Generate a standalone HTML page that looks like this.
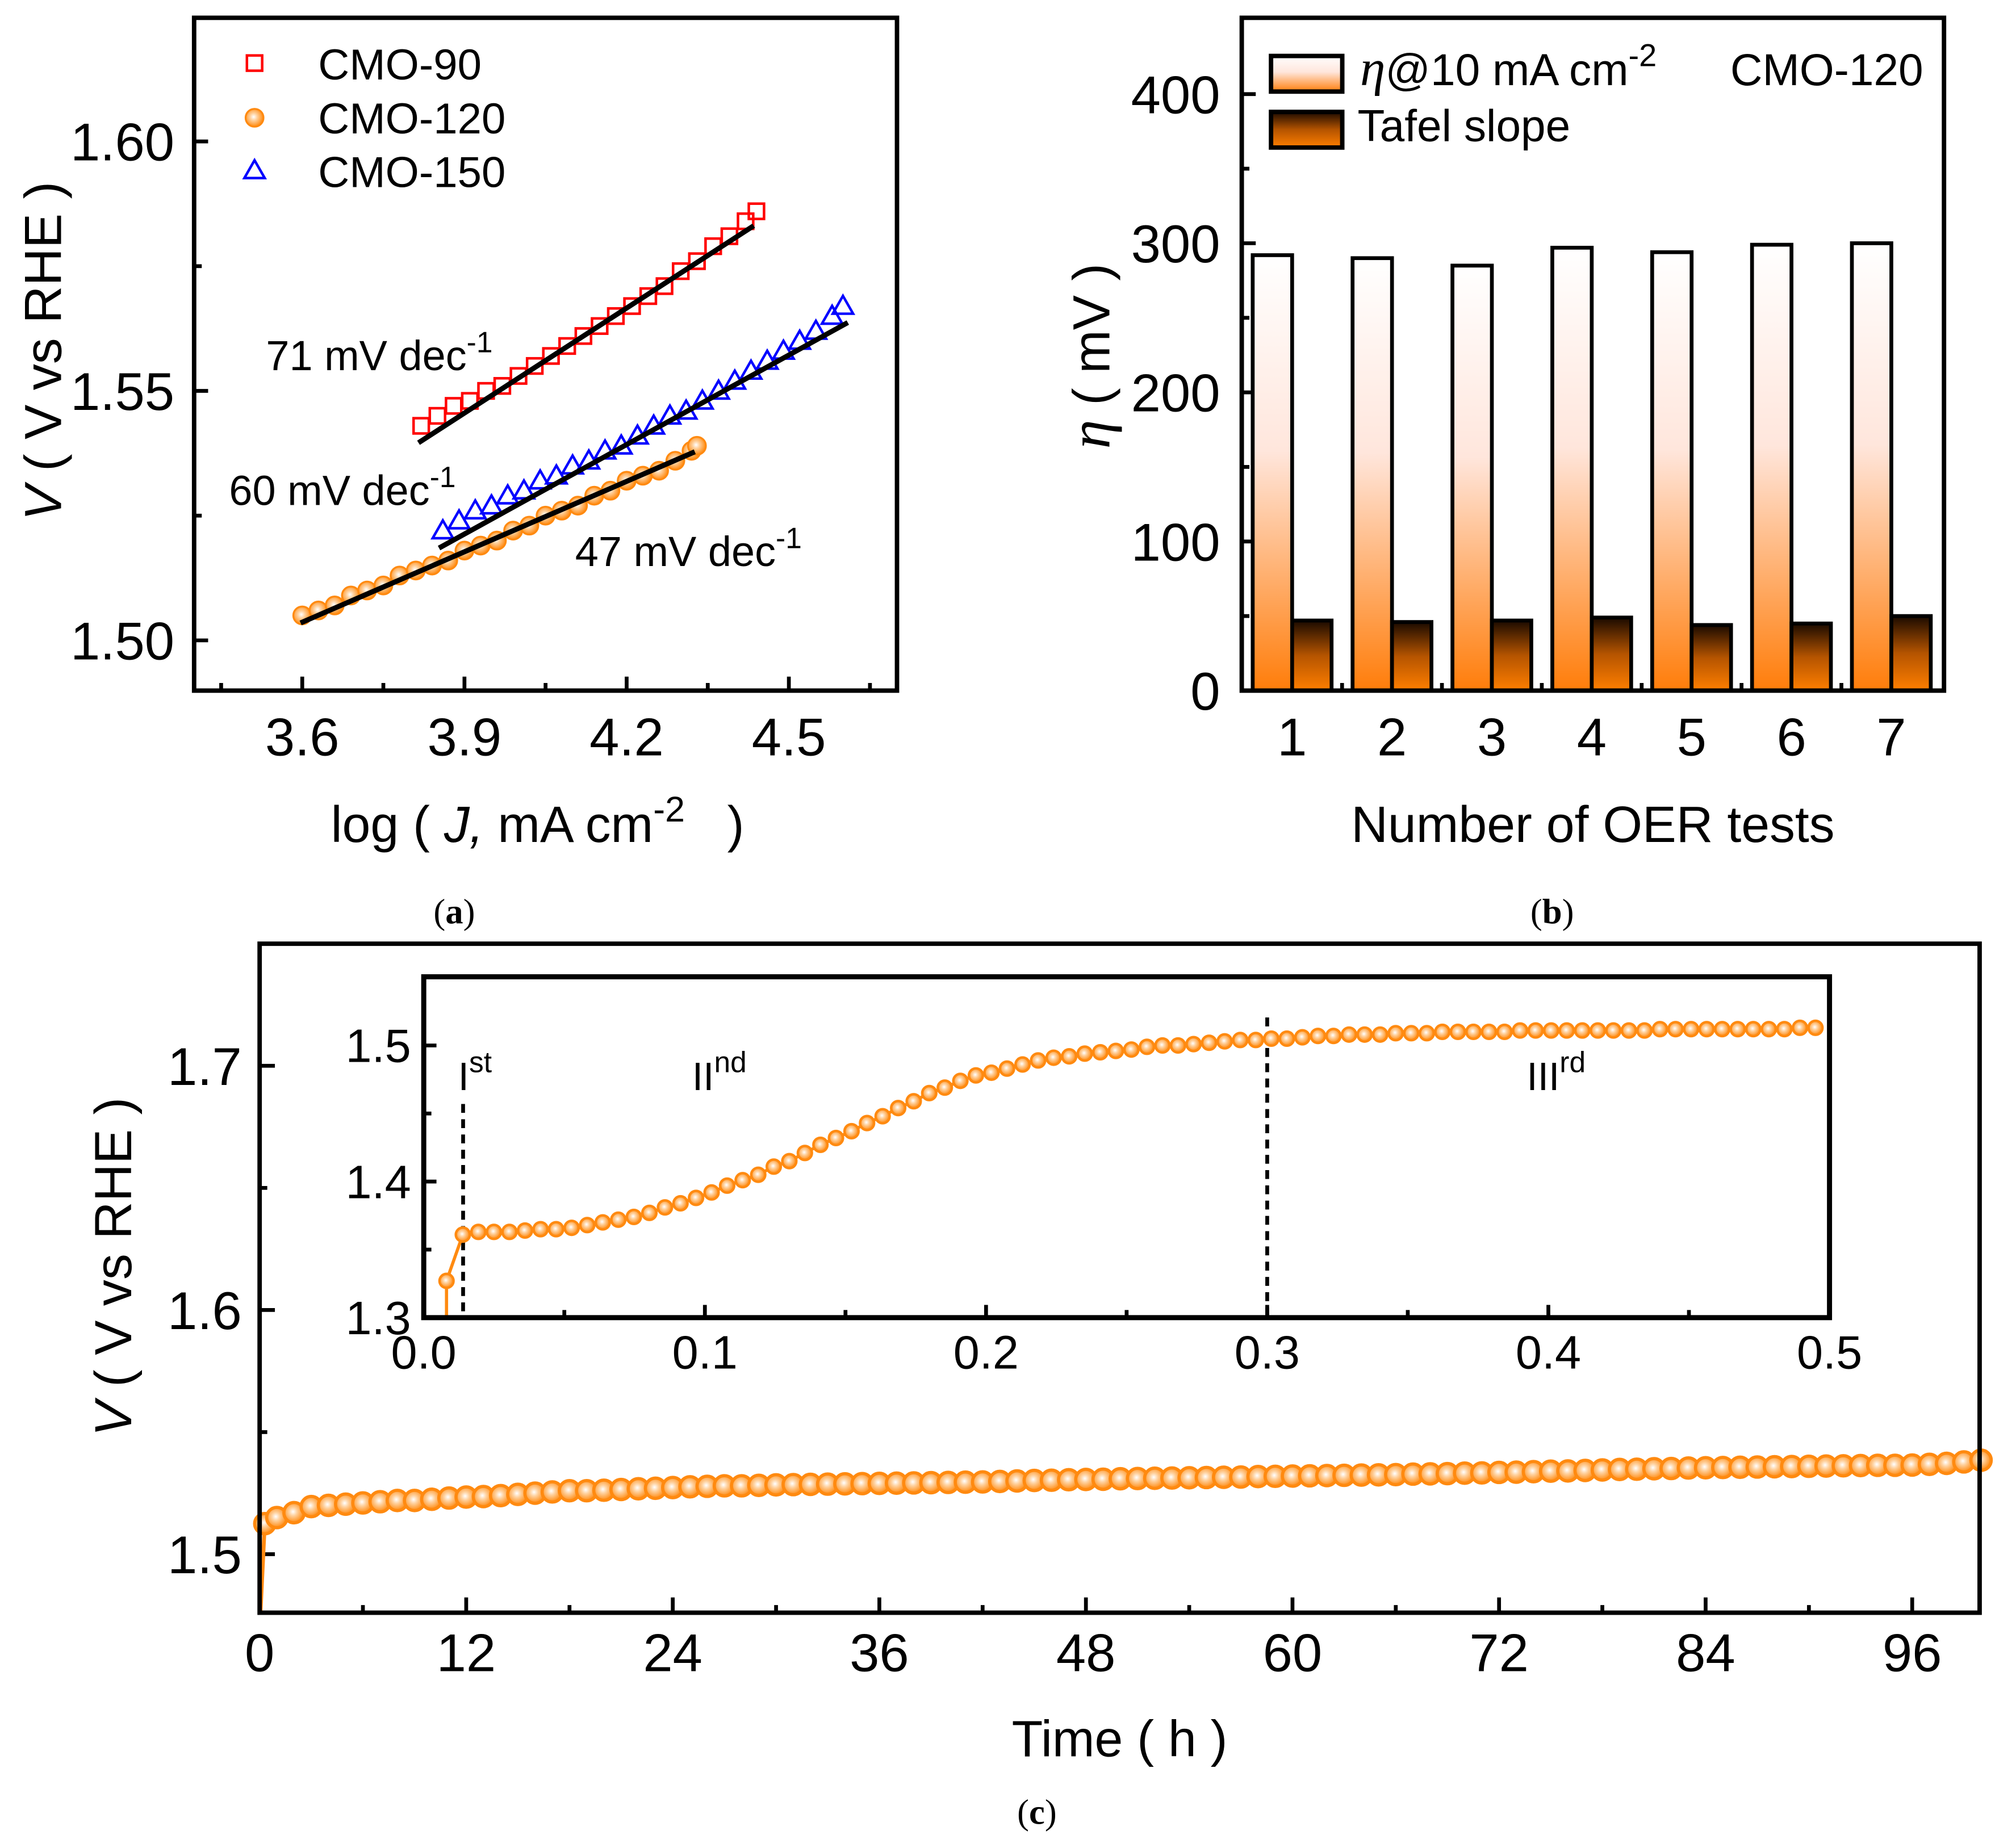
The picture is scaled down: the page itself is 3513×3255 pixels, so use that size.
<!DOCTYPE html>
<html><head><meta charset="utf-8"><style>
html,body{margin:0;padding:0;background:#fff;}
svg{display:block;font-family:"Liberation Sans",Arial,sans-serif;}
</style></head><body>
<svg id="fig" width="3513" height="3255" viewBox="0 0 1568 1453" xmlns="http://www.w3.org/2000/svg">
<defs>
<linearGradient id="gEta" x1="0" y1="0" x2="0" y2="1"><stop offset="0" stop-color="#ffffff"/><stop offset="0.45" stop-color="#ffe6dc"/><stop offset="1" stop-color="#ff7d0a"/></linearGradient>
<linearGradient id="gTaf" x1="0" y1="0" x2="0" y2="1"><stop offset="0" stop-color="#1a0a00"/><stop offset="0.5" stop-color="#b55400"/><stop offset="1" stop-color="#ff7f00"/></linearGradient>
<radialGradient id="gBall" cx="0.45" cy="0.45" r="0.55"><stop offset="0" stop-color="#ffffff"/><stop offset="0.35" stop-color="#ffd2a0"/><stop offset="1" stop-color="#ff8a10"/></radialGradient>
</defs>
<g id="pa"></g>
<g id="pb"></g>
<g id="pc"></g>
</svg>
<script>
// ---------- Panel (a) data ----------
const a90X = [3.82,3.85,3.88,3.91,3.94,3.97,4.00,4.03,4.06,4.09,4.12,4.15,4.18,4.21,4.24,4.27,4.30,4.33,4.36,4.39,4.42,4.44];
const a90V = [1.543,1.545,1.547,1.548,1.550,1.551,1.553,1.555,1.557,1.559,1.561,1.563,1.565,1.567,1.569,1.571,1.574,1.576,1.579,1.581,1.584,1.586];
const a150X = [3.86,3.89,3.92,3.95,3.98,4.01,4.04,4.07,4.10,4.13,4.16,4.19,4.22,4.25,4.28,4.31,4.34,4.37,4.40,4.43,4.46,4.49,4.52,4.55,4.58,4.60];
const a150V = [1.522,1.524,1.526,1.527,1.529,1.530,1.532,1.533,1.535,1.536,1.538,1.539,1.541,1.543,1.545,1.546,1.548,1.550,1.552,1.554,1.556,1.558,1.560,1.562,1.565,1.567];
const a120X = [3.60,3.63,3.66,3.69,3.72,3.75,3.78,3.81,3.84,3.87,3.90,3.93,3.96,3.99,4.02,4.05,4.08,4.11,4.14,4.17,4.20,4.23,4.26,4.29,4.32,4.33];
const a120V = [1.505,1.506,1.507,1.509,1.510,1.511,1.513,1.514,1.515,1.516,1.518,1.519,1.520,1.522,1.523,1.525,1.526,1.527,1.529,1.530,1.532,1.533,1.534,1.536,1.538,1.539];
const fit90 = [[3.815,1.5396],[4.435,1.5831]];
const fit150 = [[3.853,1.5185],[4.609,1.5637]];
const fit120 = [[3.597,1.5035],[4.326,1.5378]];
const aXTicks = ["3.6","3.9","4.2","4.5"];
const aYTicks = ["1.50","1.55","1.60"];
// ---------- Panel (b) data ----------
const bCats = ["1","2","3","4","5","6","7"];
const bEta = [292,290,285,297,294,299,300];
const bTafel = [47,46,47,49,44,45,50];
const bYTicks = ["0","100","200","300","400"];
// ---------- Panel (c) data ----------
const cT = [0.3,1,2,3,4,5,6,7,8,9,10,11,12,13,14,15,16,17,18,19,20,21,22,23,24,25,26,27,28,29,30,31,32,33,34,35,36,37,38,39,40,41,42,43,44,45,46,47,48,49,50,51,52,53,54,55,56,57,58,59,60,61,62,63,64,65,66,67,68,69,70,71,72,73,74,75,76,77,78,79,80,81,82,83,84,85,86,87,88,89,90,91,92,93,94,95,96,97,98,99,100];
const cV = [1.5125,1.515,1.517,1.5195,1.520,1.5205,1.521,1.5215,1.522,1.522,1.5225,1.523,1.5234,1.5236,1.524,1.5245,1.525,1.5255,1.526,1.526,1.5262,1.5265,1.5268,1.527,1.5273,1.5276,1.5278,1.528,1.528,1.5282,1.5284,1.5285,1.5286,1.5287,1.5288,1.5289,1.529,1.5291,1.5292,1.5293,1.5294,1.5295,1.5296,1.5298,1.530,1.5302,1.5303,1.5305,1.5306,1.5307,1.5309,1.531,1.5311,1.5312,1.5313,1.5314,1.5315,1.5316,1.5318,1.5319,1.532,1.5321,1.5322,1.5323,1.5324,1.5325,1.5326,1.5328,1.5329,1.533,1.5332,1.5333,1.5335,1.5336,1.5338,1.534,1.5341,1.5343,1.5345,1.5347,1.5348,1.535,1.5351,1.5353,1.5354,1.5355,1.5356,1.5357,1.5358,1.5359,1.536,1.5361,1.5362,1.5363,1.5364,1.5364,1.5365,1.5368,1.5372,1.5378,1.5385];
const cXTicks = ["0","12","24","36","48","60","72","84","96"];
const cYTicks = ["1.5","1.6","1.7"];
const insetV = [1.327,1.361,1.363,1.363,1.363,1.364,1.365,1.365,1.366,1.368,1.370,1.372,1.374,1.377,1.381,1.384,1.388,1.392,1.397,1.401,1.405,1.411,1.415,1.421,1.427,1.432,1.437,1.443,1.448,1.454,1.459,1.465,1.469,1.474,1.478,
1.480,1.483,1.486,1.489,1.491,1.492,1.494,1.495,1.496,1.497,1.499,1.500,1.500,1.501,1.502,1.503,1.504,1.504,1.505,1.505,1.506,1.507,1.507,1.508,1.508,1.508,1.509,1.509,1.509,1.510,1.510,1.510,1.510,1.510,1.511,1.511,1.511,1.511,1.511,1.511,1.511,1.511,1.511,1.512,1.512,1.512,1.512,1.512,1.512,1.512,1.512,1.512,1.513,1.513];
const insetT0 = [0.0081];
const insetStep = 0.00553;
const insetXTicks = ["0.0","0.1","0.2","0.3","0.4","0.5"];
const insetYTicks = ["1.3","1.4","1.5"];
const insetStages = [0.014,0.3];

const NS="http://www.w3.org/2000/svg";
function mk(tag,attrs,parent,txt){const e=document.createElementNS(NS,tag);for(const k in attrs)e.setAttribute(k,attrs[k]);if(txt!==undefined)e.textContent=txt;parent.appendChild(e);return e;}
function lin(d0,d1,p0,p1){return v=>p0+(v-d0)*(p1-p0)/(d1-d0);}

// ================= Panel A =================
(function(){
const g=document.getElementById('pa');
const L=152.5,R=705,T=14,B=543;
const X=lin(3.6,4.5,237.5,620), Y=lin(1.5,1.6,503.5,111.2);
aXTicks.forEach(s=>{const v=parseFloat(s),x=X(v);
 let t=mk('line',{x1:x,x2:x,y1:B,y2:B-11,stroke:'#000','stroke-width':3},g);
 
 let lb=mk('text',{x:x,y:594,'font-size':42,'text-anchor':'middle'},g,s);
 });
[3.45,3.75,4.05,4.35,4.65].forEach(v=>{let t=mk('line',{x1:X(v),x2:X(v),y1:B,y2:B-6,stroke:'#000','stroke-width':3},g);
 });
aYTicks.forEach(s=>{const v=parseFloat(s),y=Y(v);
 let t=mk('line',{x1:L,x2:L+11,y1:y,y2:y,stroke:'#000','stroke-width':3},g);
 
 let lb=mk('text',{x:137,y:y+15,'font-size':42,'text-anchor':'end'},g,s);
 });
[1.525,1.575].forEach(v=>{let t=mk('line',{x1:L,x2:L+6,y1:Y(v),y2:Y(v),stroke:'#000','stroke-width':3},g);
 });
a90X.forEach((x,i)=>{let r=mk('rect',{x:X(x)-6,y:Y(a90V[i])-6,width:12,height:12,fill:'none',stroke:'#ff0000','stroke-width':2},g);
 });
a150X.forEach((x,i)=>{const cx=X(x),cy=Y(a150V[i]);let p=mk('polygon',{points:`${cx},${cy-8} ${cx-8},${cy+6} ${cx+8},${cy+6}`,fill:'none',stroke:'#0000ff','stroke-width':2},g);
 });
a120X.forEach((x,i)=>{let c=mk('circle',{cx:X(x),cy:Y(a120V[i]),r:7,fill:'url(#gBall)',stroke:'#ff8a10','stroke-width':1.5},g);
 });
[[fit90,'fit-line-cmo-90'],[fit150,'fit-line-cmo-150'],[fit120,'fit-line-cmo-120']].forEach(([f,n])=>{
 let l=mk('line',{x1:X(f[0][0]),y1:Y(f[0][1]),x2:X(f[1][0]),y2:Y(f[1][1]),stroke:'#000','stroke-width':4},g);
 });
let fr=mk('rect',{x:L,y:T,width:R-L,height:B-T,fill:'none',stroke:'#000','stroke-width':3.5},g);

let lg=mk('g',{},g);
let s1=mk('rect',{x:194,y:43.6,width:12,height:12,fill:'none',stroke:'#ff0000','stroke-width':2},lg);

let s2=mk('circle',{cx:200,cy:92.6,r:7,fill:'url(#gBall)',stroke:'#ff8a10','stroke-width':1.5},lg);

let s3=mk('polygon',{points:'200,126 192,140 208,140',fill:'none',stroke:'#0000ff','stroke-width':2},lg);

[['CMO-90',62.6],['CMO-120',105],['CMO-150',147]].forEach(([t,y])=>{let e=mk('text',{x:250,y:y,'font-size':34},lg,t);
 });
[['71',209,291],['60',180,397],['47',452,445]].forEach(([n,x,y])=>{
 let e=mk('text',{x:x,y:y,'font-size':33},g);
 
 mk('tspan',{},e,n+' mV dec');mk('tspan',{dy:-14,'font-size':23},e,'-1');});
let yt=mk('text',{transform:'translate(48,276) rotate(-90)','font-size':41,'text-anchor':'middle'},g);

mk('tspan',{'font-style':'italic'},yt,'V');mk('tspan',{},yt,' ( V vs RHE )');
let xt=mk('text',{x:260,y:662,'font-size':40},g);

mk('tspan',{},xt,'log ( ');mk('tspan',{'font-style':'italic'},xt,'J,');mk('tspan',{},xt,' mA cm');
mk('tspan',{dy:-16,'font-size':28},xt,'-2');mk('tspan',{dy:16},xt,'\u00a0\u00a0 )');
let cap=mk('text',{x:357,y:726,'font-size':28,'text-anchor':'middle','font-family':'Liberation Serif, serif'},g);

mk('tspan',{},cap,'(');mk('tspan',{'font-weight':'bold'},cap,'a');mk('tspan',{},cap,')');
})();

// ================= Panel B =================
(function(){
const g=document.getElementById('pb');
const L=976,R=1528,T=14,B=543;
const Y=lin(0,400,543,74);
const C=i=>1015.6+i*78.5;
const bw=31;
bYTicks.forEach(s=>{const y=Y(+s);
 let t=mk('line',{x1:L,x2:L+11,y1:y,y2:y,stroke:'#000','stroke-width':3},g);
 
 let lb=mk('text',{x:959,y:y+15,'font-size':42,'text-anchor':'end'},g,s);
 });
[50,150,250,350].forEach(v=>{let t=mk('line',{x1:L,x2:L+6,y1:Y(v),y2:Y(v),stroke:'#000','stroke-width':3},g);
 });
bCats.forEach((c,i)=>{
 let r1=mk('rect',{x:C(i)-bw,y:Y(bEta[i]),width:bw,height:Y(0)-Y(bEta[i]),fill:'url(#gEta)',stroke:'#000','stroke-width':3},g);
 
 let r2=mk('rect',{x:C(i),y:Y(bTafel[i]),width:bw,height:Y(0)-Y(bTafel[i]),fill:'url(#gTaf)',stroke:'#000','stroke-width':3},g);
 
 let lb=mk('text',{x:C(i),y:594,'font-size':42,'text-anchor':'middle'},g,c);
 
 if(i<bCats.length-1){let t=mk('line',{x1:C(i)+39.25,x2:C(i)+39.25,y1:B,y2:B-6,stroke:'#000','stroke-width':3},g);
  }
});
let fr=mk('rect',{x:L,y:T,width:R-L,height:B-T,fill:'none',stroke:'#000','stroke-width':3.5},g);

let lg=mk('g',{},g);
let k1=mk('rect',{x:999,y:44,width:56,height:28,fill:'url(#gEta)',stroke:'#000','stroke-width':3.5},lg);

let k2=mk('rect',{x:999,y:88,width:56,height:28,fill:'url(#gTaf)',stroke:'#000','stroke-width':3.5},lg);

let t1=mk('text',{x:1069,y:67,'font-size':35},lg);

mk('tspan',{'font-style':'italic','font-family':'Liberation Serif, serif','font-size':40},t1,'η');mk('tspan',{},t1,'@10 mA cm');mk('tspan',{dy:-15,'font-size':25},t1,'-2');
let t2=mk('text',{x:1067,y:111,'font-size':35},lg,'Tafel slope');

let t3=mk('text',{x:1360,y:67,'font-size':35},g,'CMO-120');

let yt=mk('text',{transform:'translate(872,280) rotate(-90)','font-size':41,'text-anchor':'middle'},g);

mk('tspan',{'font-style':'italic','font-family':'Liberation Serif, serif','font-size':46},yt,'η');mk('tspan',{},yt,' ( mV )');
let xt=mk('text',{x:1252,y:662,'font-size':40,'text-anchor':'middle'},g,'Number of OER tests');

let cap=mk('text',{x:1220,y:726,'font-size':28,'text-anchor':'middle','font-family':'Liberation Serif, serif'},g);

mk('tspan',{},cap,'(');mk('tspan',{'font-weight':'bold'},cap,'b');mk('tspan',{},cap,')');
})();

// ================= Panel C =================
(function(){
const g=document.getElementById('pc');
const L=204,R=1556,T=742,B=1268;
const X=lin(0,96,204,1503), Y=lin(1.5,1.7,1222,838);
cXTicks.forEach(s=>{const x=X(+s);
 let t=mk('line',{x1:x,x2:x,y1:B,y2:B-12,stroke:'#000','stroke-width':3},g);
 
 let lb=mk('text',{x:x,y:1314,'font-size':42,'text-anchor':'middle'},g,s);
 });
[6,18,30,42,54,66,78,90].forEach(v=>{let t=mk('line',{x1:X(v),x2:X(v),y1:B,y2:B-6,stroke:'#000','stroke-width':3},g);
 });
cYTicks.forEach(s=>{const y=Y(+s);
 let t=mk('line',{x1:L,x2:L+12,y1:y,y2:y,stroke:'#000','stroke-width':3},g);
 
 let lb=mk('text',{x:190,y:y+15,'font-size':42,'text-anchor':'end'},g,s);
 });
[1.55,1.65].forEach(v=>{let t=mk('line',{x1:L,x2:L+6,y1:Y(v),y2:Y(v),stroke:'#000','stroke-width':3},g);
 });
let pts=`${X(0.05)},${B} `+cT.map((t,i)=>X(t)+','+Y(cV[i])).join(' ');
let pl=mk('polyline',{points:pts,fill:'none',stroke:'#ff8a10','stroke-width':3},g);

cT.forEach((t,i)=>{let c=mk('circle',{cx:X(t),cy:Y(cV[i]),r:8,fill:'url(#gBall)',stroke:'#ff8a10','stroke-width':2.5},g);
 });
let fr=mk('rect',{x:L,y:T,width:R-L,height:B-T,fill:'none',stroke:'#000','stroke-width':3.5},g);

const ig=mk('g',{},g);
const IL=333,IR=1438,IT=768,IB=1036;
const IX=lin(0,0.5,IL,IR), IY=lin(1.3,1.5,1036,822);
let bg=mk('rect',{x:IL,y:IT,width:IR-IL,height:IB-IT,fill:'#fff'},ig);

insetXTicks.forEach(s=>{const x=IX(+s);
 let t=mk('line',{x1:x,x2:x,y1:IB,y2:IB-10,stroke:'#000','stroke-width':3},ig);
 
 let lb=mk('text',{x:x,y:1076,'font-size':37,'text-anchor':'middle'},ig,s);
 });
[0.05,0.15,0.25,0.35,0.45].forEach(v=>{let t=mk('line',{x1:IX(v),x2:IX(v),y1:IB,y2:IB-6,stroke:'#000','stroke-width':3},ig);
 });
insetYTicks.forEach(s=>{const y=IY(+s);
 let t=mk('line',{x1:IL,x2:IL+10,y1:y,y2:y,stroke:'#000','stroke-width':3},ig);
 
 let lb=mk('text',{x:323,y:y+13,'font-size':37,'text-anchor':'end'},ig,s);
 });
[1.35,1.45].forEach(v=>{let t=mk('line',{x1:IL,x2:IL+6,y1:IY(v),y2:IY(v),stroke:'#000','stroke-width':3},ig);
 });
insetStages.forEach(v=>{let d=mk('line',{x1:IX(v),x2:IX(v),y1:v<0.1?868:800,y2:IB,stroke:'#000','stroke-width':3,'stroke-dasharray':'7,5'},ig);
 });
const insetT = insetV.map((_,i)=> i===0 ? insetT0[0] : 0.0139+(i-1)*insetStep);
let ipts=`${IX(insetT[0])},${IB} `+insetT.map((t,i)=>IX(t)+','+IY(insetV[i])).join(' ');
let ipl=mk('polyline',{points:ipts,fill:'none',stroke:'#ff8a10','stroke-width':2.5},ig);

insetT.forEach((t,i)=>{let c=mk('circle',{cx:IX(t),cy:IY(insetV[i]),r:5.5,fill:'url(#gBall)',stroke:'#ff8a10','stroke-width':2},ig);
 });
let ifr=mk('rect',{x:IL,y:IT,width:IR-IL,height:IB-IT,fill:'none',stroke:'#000','stroke-width':4},ig);

[['I','st',360],['II','nd',544],['III','rd',1200]].forEach(([r,s,x])=>{
 let e=mk('text',{x:x,y:857,'font-size':31},ig);
 
 mk('tspan',{},e,r);mk('tspan',{dy:-14,'font-size':23},e,s);});
let yt=mk('text',{transform:'translate(103,996) rotate(-90)','font-size':41,'text-anchor':'middle'},g);

mk('tspan',{'font-style':'italic'},yt,'V');mk('tspan',{},yt,' ( V vs RHE )');
let xt=mk('text',{x:880,y:1381,'font-size':40,'text-anchor':'middle'},g,'Time ( h )');

let cap=mk('text',{x:815,y:1434,'font-size':28,'text-anchor':'middle','font-family':'Liberation Serif, serif'},g);

mk('tspan',{},cap,'(');mk('tspan',{'font-weight':'bold'},cap,'c');mk('tspan',{},cap,')');
})();
</script>
</body></html>
